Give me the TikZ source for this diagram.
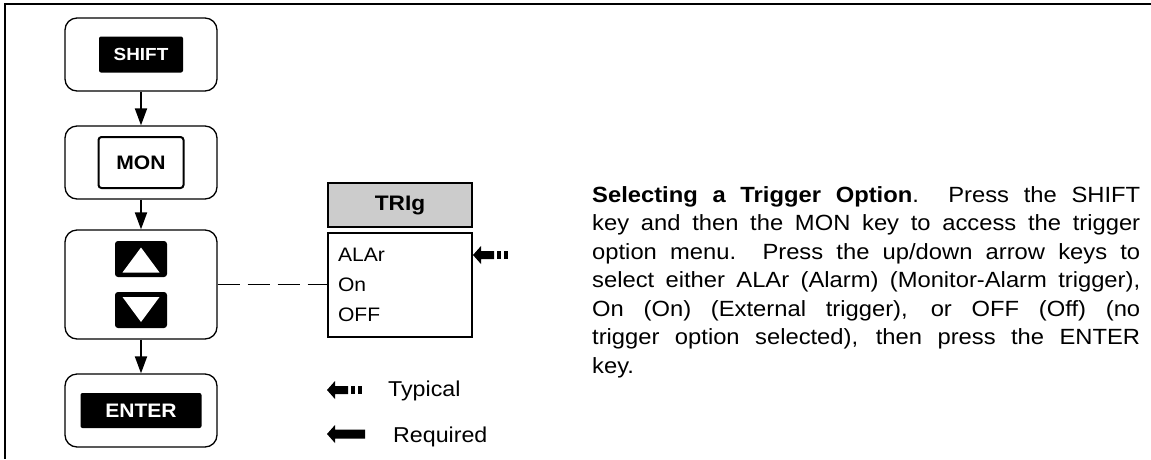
\documentclass[tikz,border=0pt]{standalone}
\usepackage{fontspec}
\setmainfont{Liberation Sans}[FakeStretch=1.08]
\usetikzlibrary{positioning,arrows.meta}

\begin{document}
\begin{tikzpicture}[
    x=1pt, y=-1pt,
    keybox/.style={rectangle, draw, line width=1.3pt, rounded corners=12pt, minimum width=152pt, minimum height=73pt},
    keycap/.style={rectangle, fill=black, text=white, rounded corners=2pt, inner sep=0pt, font=\fontsize{17.5}{20}\selectfont\bfseries},
    keyframe/.style={rectangle, draw, line width=2pt, rounded corners=3pt, inner sep=0pt, font=\fontsize{19.5}{22}\selectfont\bfseries},
    arrowkey/.style={rectangle, fill=black, rounded corners=3pt, minimum width=52pt, minimum height=36pt, inner sep=0pt},
    flow/.style={-{Triangle[length=17pt,width=12pt]}, line width=2pt},
    link/.style={line width=1pt, dash pattern=on 22pt off 8pt},
    menuhead/.style={rectangle, draw, line width=1.3pt, fill=gray!40, minimum width=144pt, minimum height=44pt, font=\fontsize{21}{24}\selectfont\bfseries},
    menubox/.style={rectangle, draw, line width=1.3pt, minimum width=144pt, minimum height=104pt, text width=124pt, align=left, inner xsep=10pt, font=\fontsize{19.5}{30}\selectfont},
    legend/.style={anchor=base west, inner sep=0pt, font=\fontsize{21.5}{24}\selectfont},
    typmark/.pic={
        \fill (0,0) -- (8,-9) -- (8,-4) -- (21,-4) -- (21,4) -- (8,4) -- (8,9) -- cycle;
        \fill (24,-4) rectangle (28,4);
        \fill (31,-4) rectangle (35,4);
    },
    reqmark/.pic={
        \fill (0,0) -- (8,-9) -- (8,-4.5) -- (38,-4.5) -- (38,4.5) -- (8,4.5) -- (8,9) -- cycle;
    }
]
\useasboundingbox (0,0) rectangle (1151,459);

% Frame
\draw[line width=2pt] (1151,4) -- (5,4) -- (5,459);

% Key sequence
\node[keybox] (shiftbox) at (141,54.5) {};
\node[keycap, minimum width=84pt, minimum height=36pt] (shift) at (shiftbox.center) {SHIFT};

\node[keybox] (monbox) at (141,162.5) {};
\node[keyframe, minimum width=85pt, minimum height=51pt] (mon) at (monbox.center) {MON};

\node[keybox, minimum height=109pt] (keysbox) at (141,284.5) {};
\node[arrowkey] (upkey) at (141,259) {};
\node[arrowkey] (downkey) at (141,310) {};
\fill[white] (upkey.center) ++(0,-11.5) -- ++(18.5,25) -- ++(-37,0) -- cycle;
\fill[white] (downkey.center) ++(0,12) -- ++(18.5,-25) -- ++(-37,0) -- cycle;

\node[keybox] (enterbox) at (141,410.5) {};
\node[keycap, minimum width=121pt, minimum height=35pt, font=\fontsize{19.5}{22}\selectfont\bfseries] (enter) at (enterbox.center) {ENTER};

\draw[flow] (shiftbox) -- (monbox);
\draw[flow] (monbox) -- (keysbox);
\draw[flow] (keysbox) -- (enterbox);

% Menu
\node[menuhead] (trighead) at (400,205) {TRIg};
\node[menubox] (trigmenu) at (400,285) {ALAr\\On\\OFF};
\draw[link] (keysbox.east) -- (keysbox.east -| trigmenu.west);
\pic at (473,255) {typmark};

% Legend
\pic at (327,390) {typmark};
\node[legend] (typtext) at (388,396) {Typical};
\pic at (327,434) {reqmark};
\node[legend] (reqtext) at (393,442) {Required};

% Description
\node[anchor=north west, inner sep=0pt, text width=548pt, align=justify, font=\fontsize{22}{28.5}\selectfont] (note) at (592,186) {\textbf{Selecting a Trigger Option}.\ \ Press the SHIFT\linebreak key and then the MON key to access the trigger\linebreak option menu.\ \ Press the up/down arrow keys to\linebreak select either ALAr (Alarm) (Monitor-Alarm trigger),\linebreak On (On) (External trigger), or OFF (Off) (no\linebreak trigger option selected), then press the ENTER\linebreak key.};

\end{tikzpicture}
\end{document}
